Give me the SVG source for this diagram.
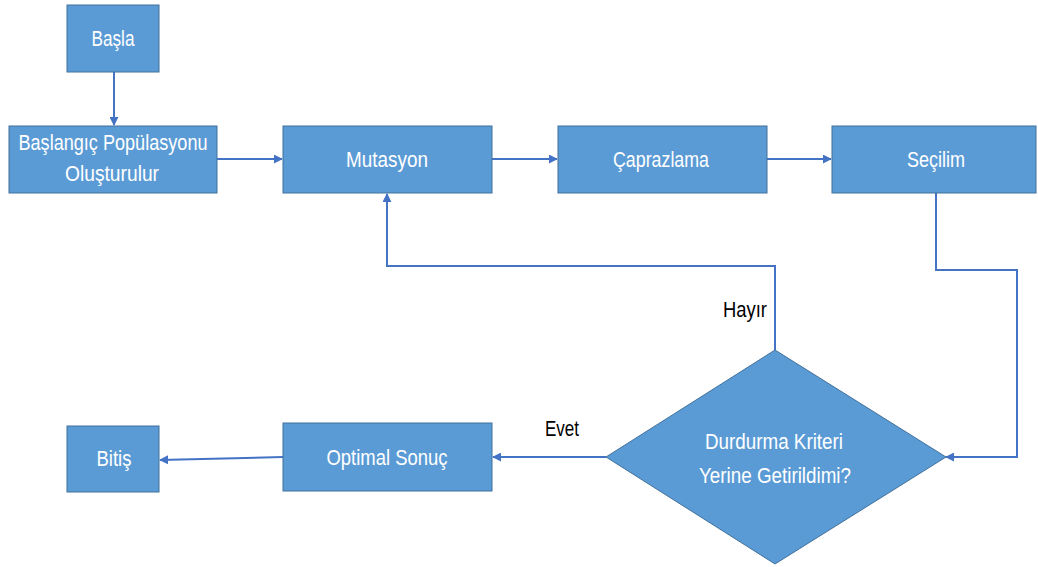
<svg xmlns="http://www.w3.org/2000/svg" width="1038" height="567" viewBox="0 0 1038 567">
  <style>
    .box { fill: #5B9BD5; stroke: #41719C; stroke-width: 1; }
    .lbl { fill: #FFFFFF; font-family: "Liberation Sans", Arial, sans-serif; font-size: 22px; text-anchor: middle; }
    .note { fill: #000000; font-family: "Liberation Sans", Arial, sans-serif; font-size: 22px; text-anchor: middle; }
    .edge { fill: none; stroke: #4472C4; stroke-width: 2; }
  </style>
  <defs>
    <marker id="arrow" viewBox="0 0 10 10" refX="9" refY="5" markerWidth="4.5" markerHeight="4.5" orient="auto" markerUnits="strokeWidth">
      <path d="M0,0 L10,5 L0,10 z" fill="#4472C4"/>
    </marker>
  </defs>
  <rect width="1038" height="567" fill="#FFFFFF"/>

  <!-- connectors -->
  <g id="connectors">
    <path class="edge" d="M114,72 V125" marker-end="url(#arrow)"/>
    <path class="edge" d="M217,159 H282" marker-end="url(#arrow)"/>
    <path class="edge" d="M492,159 H557" marker-end="url(#arrow)"/>
    <path class="edge" d="M767,159 H831" marker-end="url(#arrow)"/>
    <path class="edge" d="M936,193 V270 H1017 V457 H946" marker-end="url(#arrow)"/>
    <path class="edge" d="M775,350 V266 H387 V194" marker-end="url(#arrow)"/>
    <path class="edge" d="M606,457 H493" marker-end="url(#arrow)"/>
    <path class="edge" d="M283,457 L160,460" marker-end="url(#arrow)"/>
    <text class="note" x="745" y="317" textLength="44" lengthAdjust="spacingAndGlyphs">Hayır</text>
    <text class="note" x="562" y="436" textLength="34" lengthAdjust="spacingAndGlyphs">Evet</text>
  </g>

  <g id="basla">
    <rect class="box" x="67" y="5" width="92" height="67"/>
    <text class="lbl" x="113" y="46" textLength="43" lengthAdjust="spacingAndGlyphs">Başla</text>
  </g>

  <g id="baslangic">
    <rect class="box" x="9" y="126" width="208" height="67"/>
    <text class="lbl" x="113" y="150" textLength="189" lengthAdjust="spacingAndGlyphs">Başlangıç Popülasyonu</text>
    <text class="lbl" x="112" y="181" textLength="94" lengthAdjust="spacingAndGlyphs">Oluşturulur</text>
  </g>

  <g id="mutasyon">
    <rect class="box" x="283" y="126" width="209" height="67"/>
    <text class="lbl" x="387" y="167" textLength="82" lengthAdjust="spacingAndGlyphs">Mutasyon</text>
  </g>

  <g id="caprazlama">
    <rect class="box" x="558" y="126" width="209" height="67"/>
    <text class="lbl" x="661" y="167" textLength="96" lengthAdjust="spacingAndGlyphs">Çaprazlama</text>
  </g>

  <g id="secilim">
    <rect class="box" x="832" y="126" width="204" height="67"/>
    <text class="lbl" x="936" y="167" textLength="58" lengthAdjust="spacingAndGlyphs">Seçilim</text>
  </g>

  <g id="durdurma">
    <polygon class="box" points="775,350 946,457 775,564 606,457"/>
    <text class="lbl" x="774" y="449" textLength="138" lengthAdjust="spacingAndGlyphs">Durdurma Kriteri</text>
    <text class="lbl" x="775" y="483" textLength="152" lengthAdjust="spacingAndGlyphs">Yerine Getirildimi?</text>
  </g>

  <g id="optimal">
    <rect class="box" x="283" y="423" width="209" height="68"/>
    <text class="lbl" x="387" y="465" textLength="121" lengthAdjust="spacingAndGlyphs">Optimal Sonuç</text>
  </g>

  <g id="bitis">
    <rect class="box" x="67" y="426" width="92" height="66"/>
    <text class="lbl" x="114" y="466" textLength="35" lengthAdjust="spacingAndGlyphs">Bitiş</text>
  </g>
</svg>
